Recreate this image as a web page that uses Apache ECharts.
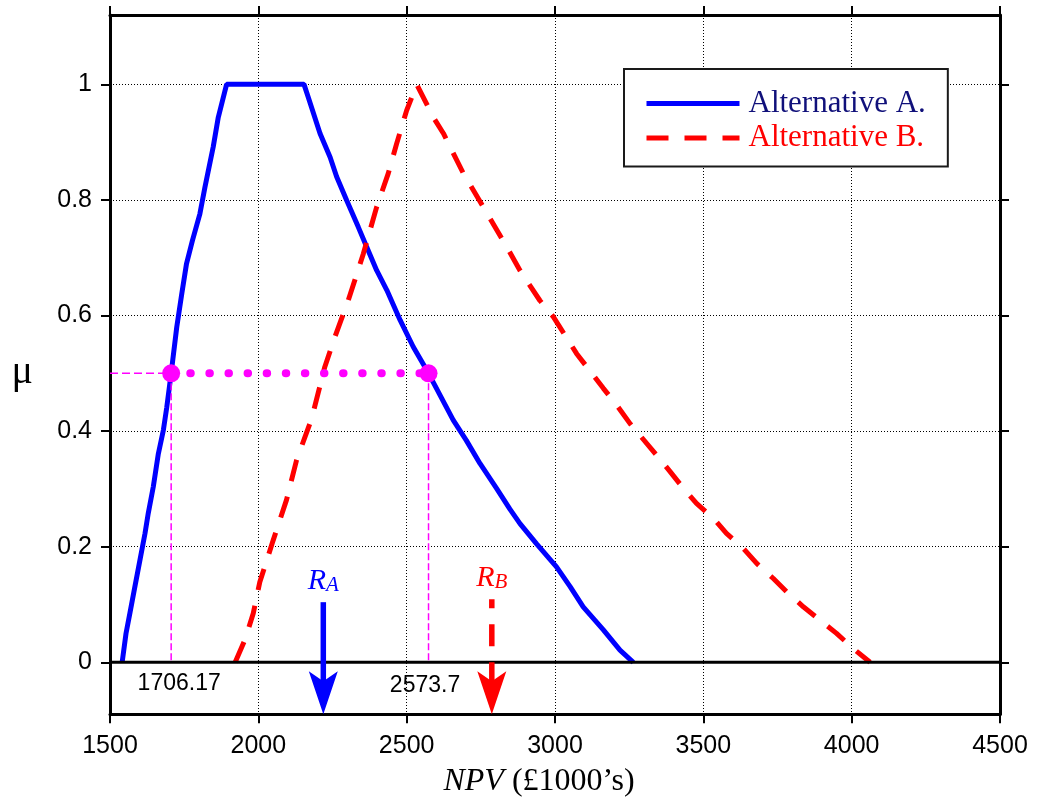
<!DOCTYPE html>
<html>
<head>
<meta charset="utf-8">
<title>Fuzzy NPV ranking</title>
<script src="https://cdn.jsdelivr.net/npm/echarts@6/dist/echarts.min.js"></script>
<style>
  html, body { margin: 0; padding: 0; background: #fff; }
  #chart { width: 1038px; height: 802px; }
</style>
</head>
<body>
<div id="chart"></div>
<script>
// Membership function of Alternative A (NPV in £1000's, membership mu)
const npvA = [1541, 1554, 1567, 1584, 1601, 1618, 1629, 1646, 1663, 1680, 1691, 1706.17, 1725, 1742, 1758,
  1778, 1803, 1820, 1848, 1865, 1893, 2154, 2168, 2208, 2242, 2264, 2298, 2337, 2365, 2399,
  2433, 2478, 2522, 2573.7, 2657, 2701, 2747, 2803, 2848, 2882, 2938, 3005, 3051, 3095, 3163, 3219, 3264];
const muA = [0, 0.05, 0.085, 0.131, 0.177, 0.223, 0.258, 0.304, 0.361, 0.402, 0.44, 0.5, 0.58, 0.638, 0.69,
  0.73, 0.776, 0.822, 0.892, 0.943, 1, 1, 0.978, 0.915, 0.874, 0.84, 0.799, 0.753, 0.719, 0.678,
  0.644, 0.592, 0.546, 0.5, 0.419, 0.384, 0.344, 0.301, 0.265, 0.24, 0.205, 0.165, 0.131, 0.096, 0.056, 0.021, 0];

// Membership function of Alternative B
const npvB = [1922, 1955, 1983, 2005, 2050, 2095, 2129, 2180, 2224, 2258, 2303, 2354, 2399, 2438, 2466,
  2500, 2534, 2590, 2624, 2691, 2758, 2837, 2882, 2949, 2994, 3073, 3163, 3208, 3253, 3343,
  3388, 3433, 3477, 3534, 3578, 3635, 3680, 3736, 3781, 3837, 3893, 3949, 4005, 4062];
const muB = [0, 0.039, 0.085, 0.139, 0.211, 0.281, 0.35, 0.422, 0.511, 0.563, 0.626, 0.707, 0.788, 0.846, 0.897,
  0.955, 1, 0.943, 0.915, 0.846, 0.788, 0.719, 0.678, 0.626, 0.598, 0.534, 0.474, 0.445, 0.413, 0.358,
  0.33, 0.301, 0.275, 0.249, 0.223, 0.197, 0.171, 0.145, 0.122, 0.096, 0.073, 0.05, 0.024, 0];

// Axis ranges and ticks
const npvMin = 1500, npvMax = 4500, npvStep = 500;
const muMin = -0.09, muMax = 1.12;
const muTicks = [0, 0.2, 0.4, 0.6, 0.8, 1];

// alpha-cut at mu = 0.5 and its two crossing points
const alphaCut = 0.5;
const cutNpv = [1706.17, 2573.7];
const cutLabelMu = -0.037;

// Ranking values R_A and R_B (arrows)
const rankNames = ['A', 'B'];
const rankNpv = [2219, 2787];
const rankTop = [0.104, 0.109];

const SANS = "'Liberation Sans', Arial, Helvetica, sans-serif";
const SERIF = "'Liberation Serif', 'Times New Roman', Times, serif";
const BLUE = '#0000ff', RED = '#ff0000', MAGENTA = '#ff00ff';
const rankColors = [BLUE, RED];

const zip = (xs, ys) => xs.map((x, i) => [x, ys[i]]);

const chart = echarts.init(document.getElementById('chart'), null, { renderer: 'canvas' });

const gridLine = { show: true, lineStyle: { color: '#000', width: 1, type: [1, 2] } };
const frameLine = { show: true, onZero: false, lineStyle: { color: '#000', width: 3 } };
const frameTick = { show: true, length: 9, lineStyle: { color: '#000', width: 2 } };

const option = {
  animation: false,
  backgroundColor: '#fff',
  grid: { left: 110, right: 38, top: 15, bottom: 87.7, outerBoundsMode: 'none' },
  legend: {
    orient: 'vertical',
    left: 624, top: 69,
    padding: [19, 22, 13, 20],
    itemWidth: 93, itemHeight: 20, itemGap: 3.5,
    backgroundColor: '#fff',
    borderColor: '#1a1a1a', borderWidth: 2, borderRadius: 0,
    selectedMode: false,
    itemStyle: { opacity: 0 },
    lineStyle: { width: 5 },
    textStyle: { fontSize: 31, fontFamily: SERIF, lineHeight: 20, padding: [0, 0, 0, 4] },
    data: [
      { name: 'Alternative A.', textStyle: { color: '#10107a' } },
      { name: 'Alternative B.', textStyle: { color: RED } }
    ]
  },
  xAxis: [
    {
      type: 'value', position: 'bottom',
      min: npvMin, max: npvMax, interval: npvStep,
      axisLine: frameLine, axisTick: frameTick,
      axisLabel: { fontSize: 25, fontFamily: SANS, color: '#000', margin: 19, formatter: v => String(v) },
      splitLine: gridLine,
      name: '{i|NPV} (£1000’s)',
      nameLocation: 'middle', nameGap: 51.5,
      nameTextStyle: {
        fontSize: 32, fontFamily: SERIF, color: '#000', padding: [0, 32, 0, 0],
        rich: { i: { fontSize: 32, fontFamily: SERIF, fontStyle: 'italic', color: '#000' } }
      }
    },
    {
      type: 'value', position: 'top',
      min: npvMin, max: npvMax, interval: npvStep,
      axisLine: frameLine, axisTick: frameTick,
      axisLabel: { show: false }, splitLine: { show: false }
    }
  ],
  yAxis: [
    {
      type: 'value', position: 'left',
      min: muMin, max: muMax,
      axisLine: frameLine,
      axisTick: Object.assign({ customValues: muTicks }, frameTick),
      axisLabel: {
        customValues: muTicks, fontSize: 25, fontFamily: SANS, color: '#000', margin: 18,
        padding: [0, 0, 6, 0], formatter: v => String(+v.toFixed(2))
      },
      splitLine: gridLine,
      name: '{m|μ}', nameLocation: 'middle', nameRotate: 0, nameGap: 77,
      nameTextStyle: {
        fontSize: 40, fontFamily: SERIF, color: '#000',
        rich: { m: { fontSize: 40, lineHeight: 40, fontFamily: SERIF, color: '#000', padding: [16, 0, 0, 0] } }
      }
    },
    {
      type: 'value', position: 'right',
      min: muMin, max: muMax,
      axisLine: frameLine,
      axisTick: Object.assign({ customValues: muTicks }, frameTick),
      axisLabel: { show: false, customValues: muTicks },
      splitLine: { show: false }
    }
  ],
  series: [
    {
      name: 'Alternative A.', type: 'line', data: zip(npvA, muA),
      symbol: 'none', showSymbol: false, z: 3,
      lineStyle: { color: BLUE, width: 5 }, itemStyle: { color: BLUE }
    },
    {
      name: 'Alternative B.', type: 'line', data: zip(npvB, muB),
      symbol: 'none', showSymbol: false, z: 3,
      lineStyle: { color: RED, width: 5, type: [22, 16] }, itemStyle: { color: RED }
    },
    {
      name: 'mu = 0', type: 'line', data: [[npvMin, 0], [npvMax, 0]],
      symbol: 'none', silent: true, z: 4,
      lineStyle: { color: '#000', width: 3 }
    },
    {
      name: 'cut level', type: 'line', data: [[npvMin, alphaCut], [cutNpv[0], alphaCut]],
      symbol: 'none', silent: true, z: 5,
      lineStyle: { color: MAGENTA, width: 1.5, type: [8, 4] }
    },
    ...cutNpv.map((c, i) => ({
      name: 'cut drop ' + i, type: 'line', data: [[c, alphaCut], [c, 0]],
      symbol: 'none', silent: true, z: 5,
      lineStyle: { color: MAGENTA, width: 1.5, type: [7, 3] }
    })),
    {
      name: 'alpha-cut', type: 'line', data: cutNpv.map(c => [c, alphaCut]),
      symbol: 'none', silent: true, z: 6,
      lineStyle: { color: MAGENTA, width: 8, type: [0.5, 18.6], cap: 'round' }
    },
    {
      name: 'cut points', type: 'scatter', data: cutNpv.map(c => [c, alphaCut]),
      symbol: 'circle', symbolSize: 18, silent: true, z: 7,
      itemStyle: { color: MAGENTA, opacity: 1 }
    },
    {
      name: 'cut values', type: 'scatter',
      data: cutNpv.map((c, i) => ({
        value: [c, cutLabelMu],
        label: { offset: i === 0 ? [8, 0] : [-3.5, 1.5] }
      })),
      symbol: 'circle', symbolSize: 1, silent: true, z: 7,
      itemStyle: { color: '#fff', opacity: 0 },
      label: {
        show: true, position: 'inside', formatter: p => String(p.value[0]),
        fontSize: 23, fontFamily: SANS, color: '#000', opacity: 1,
        textBorderWidth: 0, textBorderColor: 'transparent'
      }
    },
    {
      name: 'ranking', type: 'custom', silent: true, z: 8,
      data: rankNpv.map((x, i) => [x, rankTop[i]]),
      renderItem: function (params, api) {
        const idx = params.dataIndex;
        const color = rankColors[idx];
        const top = api.coord([api.value(0), api.value(1)]);
        const tip = api.coord([api.value(0), muMin]);
        const headH = 43, headW = 14.5, notch = 33;
        const shaft = {
          type: 'line',
          shape: { x1: top[0], y1: top[1], x2: tip[0], y2: tip[1] - notch + 3 },
          style: idx === 1
            ? { stroke: color, lineWidth: 5.5, lineDash: [22, 16], lineDashOffset: 13 }
            : { stroke: color, lineWidth: 5.5 }
        };
        const head = {
          type: 'polygon',
          shape: { points: [[tip[0], tip[1]], [tip[0] - headW, tip[1] - headH], [tip[0], tip[1] - notch], [tip[0] + headW, tip[1] - headH]] },
          style: { fill: color }
        };
        const label = {
          type: 'text', x: top[0], y: top[1] - 6.5,
          style: {
            text: '{r|R}{s|' + rankNames[idx] + '}',
            align: 'center', verticalAlign: 'bottom',
            rich: {
              r: { fontSize: 30, lineHeight: 30, fontFamily: SERIF, fontStyle: 'italic', fill: color },
              s: { fontSize: 21, lineHeight: 17, fontFamily: SERIF, fontStyle: 'italic', fill: color, verticalAlign: 'bottom' }
            }
          }
        };
        return { type: 'group', children: [shaft, head, label] };
      }
    }
  ]
};

chart.setOption(option);
</script>
</body>
</html>
